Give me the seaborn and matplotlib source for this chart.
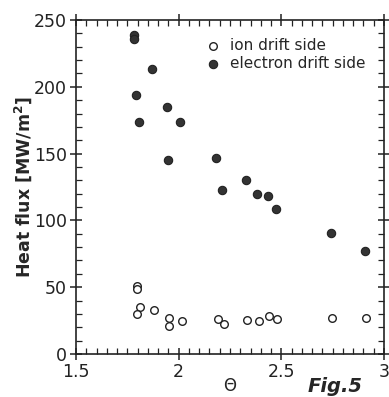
import pandas as pd
import seaborn as sns
import matplotlib.pyplot as plt
from matplotlib.ticker import MultipleLocator

# Data
ion_theta = [1.797, 1.797, 1.812, 1.797, 1.878, 1.955, 1.955, 2.015, 2.193, 2.219,
             2.334, 2.39, 2.442, 2.477, 2.745, 2.911]
ion_flux = [50.9, 48.9, 35.0, 29.7, 32.9, 27.2, 21.0, 24.5, 26.2, 22.7,
            25.4, 24.5, 28.7, 26.2, 26.7, 26.7]
electron_theta = [1.784, 1.784, 1.869, 1.79, 1.805, 1.945, 2.005, 1.947, 2.182, 2.213,
                  2.328, 2.383, 2.437, 2.472, 2.74, 2.909]
electron_flux = [239.0, 236.0, 213.0, 194.0, 174.0, 185.0, 174.0, 145.0, 146.7, 122.7,
                 130.5, 120.0, 118.5, 108.5, 90.8, 77.0]
x_ticks = [1.5, 2, 2.5, 3]
x_tick_labels = ["1.5", "2", "2.5", "3"]
y_ticks = [0, 50, 100, 150, 200, 250]

sns.set_style("ticks")
plt.rcParams['font.family'] = ['DejaVu Sans']

fig = plt.figure(figsize=(3.89, 3.97), dpi=100)
ax = fig.add_axes([0.1954, 0.1083, 0.7916, 0.8413])

ion = pd.DataFrame({"theta": ion_theta, "flux": ion_flux})
ele = pd.DataFrame({"theta": electron_theta, "flux": electron_flux})

sns.scatterplot(data=ion, x="theta", y="flux", ax=ax, marker="o", s=30,
                facecolor="white", edgecolor="#222222", linewidth=1.0,
                label="ion drift side", zorder=3)
sns.scatterplot(data=ele, x="theta", y="flux", ax=ax, marker="o", s=36,
                color="#333333", edgecolor="#222222", linewidth=0.8,
                label="electron drift side", zorder=3)

ax.set_xlim(1.5, 3)
ax.set_ylim(0, 250)
ax.set_xticks(x_ticks)
ax.set_xticklabels(x_tick_labels)
ax.set_yticks(y_ticks)
ax.xaxis.set_minor_locator(MultipleLocator(0.05))
ax.yaxis.set_minor_locator(MultipleLocator(10))

for side in ["top", "right", "bottom", "left"]:
    ax.spines[side].set_visible(True)
    ax.spines[side].set_linewidth(1.2)
    ax.spines[side].set_color("#222222")

ax.tick_params(which="major", direction="inout", length=9, width=1.1,
               top=True, right=True, labelsize=12.5, colors="#222222", pad=2)
ax.tick_params(which="minor", direction="in", length=4, width=0.9,
               top=True, right=True, colors="#222222")

ax.set_xlabel("Θ", fontsize=12, labelpad=-3)
ax.set_ylabel("Heat flux [MW/m$^\\mathbf{2}$]", fontsize=12.5, fontweight="bold", labelpad=0)

leg = ax.legend(loc="upper left", bbox_to_anchor=(0.39, 0.975), frameon=False,
                fontsize=11, handletextpad=0.6, labelspacing=0.2,
                borderaxespad=0.2, handlelength=1.0)

fig.text(0.792, 0.003, "Fig.5", fontsize=14, fontweight="bold", fontstyle="italic",
         va="bottom", ha="left")

fig.savefig("out.png", dpi=100)
